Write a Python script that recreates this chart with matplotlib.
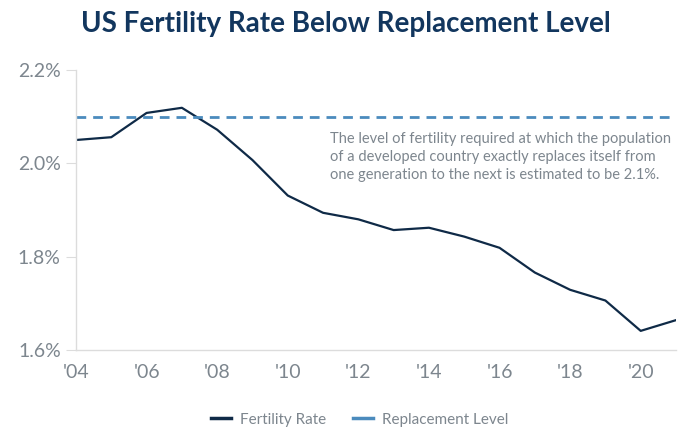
import matplotlib
matplotlib.use("Agg")
import matplotlib.pyplot as plt
from matplotlib.lines import Line2D

years = list(range(2004, 2022))
fertility = [2.050, 2.056, 2.108, 2.119, 2.072, 2.007, 1.931, 1.894, 1.880,
             1.857, 1.862, 1.843, 1.819, 1.766, 1.729, 1.706, 1.641, 1.664]
replacement = 2.1
tick_years = list(range(2004, 2021, 2))
tick_labels = ["'04", "'06", "'08", "'10", "'12", "'14", "'16", "'18", "'20"]
y_ticks = [1.6, 1.8, 2.0, 2.2]

navy = "#0f2a47"
dash_blue = "#4b8bbd"
grey = "#7d868e"

plt.rcParams["font.family"] = ["Lato", "DejaVu Sans"]

fig = plt.figure(figsize=(6.92, 4.29), dpi=100)
ax = fig.add_axes([76 / 692, 1 - 350 / 429, 600 / 692, 280 / 429])

ax.plot(years, fertility, color=navy, lw=1.6, label="Fertility Rate")
ax.axhline(replacement, color=dash_blue, lw=2, ls=(0, (3.5, 2.5)))

ax.set_xlim(2004, 2021)
ax.set_ylim(1.6, 2.2)
ax.set_yticks(y_ticks)
ax.set_yticklabels([f"{v:.1f}%" for v in y_ticks])
ax.set_xticks(tick_years)
ax.set_xticklabels(tick_labels)

for s in ["top", "right"]:
    ax.spines[s].set_visible(False)
for s in ["left", "bottom"]:
    ax.spines[s].set_color("#dcdcdc")
    ax.spines[s].set_linewidth(1)
ax.tick_params(axis="y", length=7, color="#dcdcdc", labelsize=14, labelcolor=grey, pad=4)
ax.tick_params(axis="x", length=0, labelsize=14, labelcolor=grey, pad=10)

ax.text(2011.2, 2.068,
        "The level of fertility required at which the population\n"
        "of a developed country exactly replaces itself from\n"
        "one generation to the next is estimated to be 2.1%.",
        fontsize=10.5, color=grey, va="top", ha="left", linespacing=1.4)

fig.text(0.5, 0.945, "US Fertility Rate Below Replacement Level",
         ha="center", va="center", fontsize=20, fontweight="bold", color="#12365e")

handles = [Line2D([], [], color=navy, lw=2.5),
           Line2D([], [], color=dash_blue, lw=2.5)]
fig.legend(handles, ["Fertility Rate", "Replacement Level"], loc="center",
           bbox_to_anchor=(0.52, 0.022), ncol=2, frameon=False, fontsize=11,
           labelcolor=grey, handlelength=1.3, columnspacing=1.8, handletextpad=0.6)

fig.savefig("out.png", dpi=100)
